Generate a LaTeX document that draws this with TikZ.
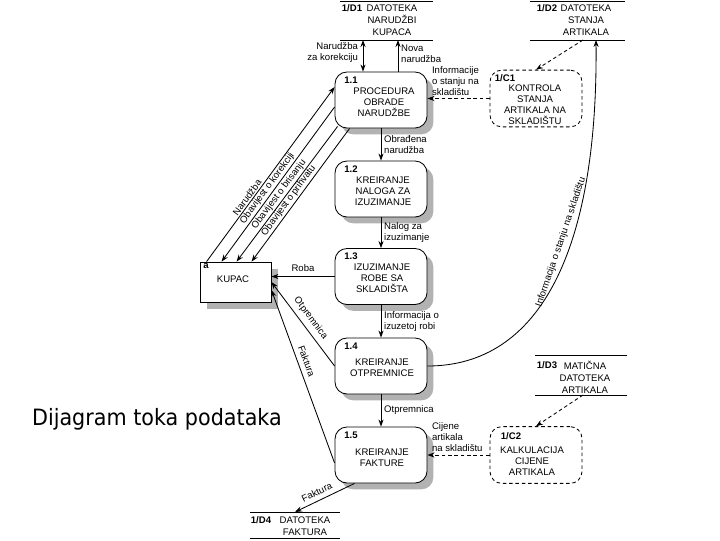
\documentclass[tikz,border=0pt]{standalone}
\usepackage{fontspec}
\setmainfont{Liberation Sans}
\newfontfamily\titlefont[FakeStretch=0.92]{DejaVu Sans}
\usetikzlibrary{shadows,calc,arrows.meta}

\tikzset{
  proc/.style={draw, fill=white, rounded corners=8.5pt, minimum width=2.3cm, minimum height=1.4cm,
    drop shadow={shadow xshift=4.5pt, shadow yshift=-4.5pt, fill=black!30, opacity=1}},
  ctrl/.style={draw, dash pattern=on 2.5pt off 2pt, rounded corners=8.5pt, minimum width=2.3cm, minimum height=1.42cm},
  ent/.style={draw, fill=white, minimum width=1.775cm, minimum height=1cm,
    drop shadow={shadow xshift=5pt, shadow yshift=-5pt, fill=black!30, opacity=1}},
  store/.style={inner sep=0pt, outer sep=0pt},
  btxt/.style={align=center, inner sep=0pt},
  stxt/.style={align=center, inner sep=0pt, font=\fontsize{6.8}{8.5}\selectfont},
  num/.style={font=\fontsize{6.8}{8}\selectfont\bfseries, inner sep=0pt},
  flow/.style={align=left, inner sep=2pt},
  slab/.style={sloped, above, inner sep=1pt},
  dflow/.style={dash pattern=on 2.5pt off 2pt}
}

\begin{document}
\begin{tikzpicture}[x=0.025cm, y=-0.025cm, >={Stealth[length=5pt,width=3.6pt]}, line width=0.6pt,
  font=\fontsize{6.8}{7.8}\selectfont]
  \useasboundingbox (0,0) rectangle (720,540);

  % procesi
  \node[proc] (p11) at (381,100) {};
  \node[proc] (p12) at (381,189) {};
  \node[proc] (p13) at (381,276.5) {};
  \node[proc] (p14) at (381,366) {};
  \node[proc] (p15) at (381,455) {};
  \foreach \i in {1,...,5}
    \node[num] (n1\i) at ($(p1\i)+(-30,-20)$) {1.\i};
  \node[btxt] (p11t) at (384,102) {PROCEDURA\\OBRADE\\NARUDŽBE};
  \node[btxt] (p12t) at (383,191) {KREIRANJE\\NALOGA ZA\\IZUZIMANJE};
  \node[btxt] (p13t) at (382,278.5) {IZUZIMANJE\\ROBE SA\\SKLADIŠTA};
  \node[btxt] (p14t) at (382,367.5) {KREIRANJE\\OTPREMNICE};
  \node[btxt] (p15t) at (382,457.5) {KREIRANJE\\FAKTURE};

  % kontrole
  \node[ctrl] (c1) at (536,98.5) {};
  \node[btxt] (c1t) at (535,104.5) {KONTROLA\\STANJA\\ARTIKALA NA\\SKLADIŠTU};
  \node[num] (c1n) at (505,78) {1/C1};
  \node[ctrl] (c2) at (536,455) {};
  \node[btxt] (c2t) at (532,461) {KALKULACIJA\\CIJENE\\ARTIKALA};
  \node[num] (c2n) at (511,436.5) {1/C2};

  % datoteke
  \node[store, minimum width=2.325cm, minimum height=0.975cm] (d1) at (386.5,20.5) {};
  \node[stxt] (d1t) at (392,20) {DATOTEKA\\NARUDŽBI\\KUPACA};
  \node[num] (d1n) at (352,8) {1/D1};
  \node[store, minimum width=2.375cm, minimum height=0.975cm] (d2) at (577.5,20.5) {};
  \node[stxt] (d2t) at (586,20) {DATOTEKA\\STANJA\\ARTIKALA};
  \node[num] (d2n) at (547,8) {1/D2};
  \node[store, minimum width=2.3cm, minimum height=1cm] (d3) at (581,375) {};
  \node[stxt] (d3t) at (585,377) {MATIČNA\\DATOTEKA\\ARTIKALA};
  \node[num] (d3n) at (547,365) {1/D3};
  \node[store, minimum width=2.25cm, minimum height=0.65cm] (d4) at (295,525) {};
  \node[stxt] (d4t) at (305,526) {DATOTEKA\\FAKTURA};
  \node[num] (d4n) at (261,520) {1/D4};
  \foreach \s in {d1,d2,d3,d4} {
    \draw (\s.north west) -- (\s.north east);
    \draw (\s.south west) -- (\s.south east);
  }

  % vanjski entitet
  \node[ent] (ku) at (235.5,282) {};
  \node[btxt] (kut) at (233,279) {KUPAC};
  \node[num] (kun) at (206,266) {a};

  \node[anchor=base west, font=\titlefont\fontsize{16}{19}\selectfont] (title) at (27,425) {Dijagram toka podataka};

  % tokovi
  \coordinate (a1) at ($(p11.north)+(-18,0)$);
  \coordinate (a2) at ($(p11.north)+(17,0)$);
  \draw[<->] (a1) -- (a1 |- d1.south) node[pos=0.6, left, align=right] {Narudžba\\za korekciju};
  \draw[->] (a2) -- (a2 |- d1.south) node[pos=0.55, right, flow] {Nova\\narudžba};

  \draw[->, dflow] (c1.west) -- (c1.west -| p11.east) node[pos=1, anchor=south west, flow, xshift=1pt] {Informacije\\o stanju na\\skladištu};
  \coordinate (b1) at ($(d2.south)+(5.5,0)$);
  \draw[->, dflow] (b1) -- (c1.north);
  \coordinate (b2) at ($(d2.south)+(18.5,0)$);
  \draw[->] (p14.east) .. controls (540,366) and (598,250) .. (b2)
    node[pos=0.6, sloped, above] {Informacija o stanju na skladištu};

  \draw[->] (p11) -- (p12) node[midway, right, flow] {Obrađena\\narudžba};
  \draw[->] (p12) -- (p13) node[midway, right, flow] {Nalog za\\izuzimanje};
  \draw[->] (p13) -- (p14) node[midway, right, flow] {Informacija o\\izuzetoj robi};
  \draw[->] (p14) -- (p15) node[midway, right, flow] {Otpremnica};

  \draw[->, dflow] (c2.west) -- (c2.west -| p15.east) node[pos=1, anchor=south west, flow, xshift=1pt] {Cijene\\artikala\\na skladištu};
  \coordinate (b3) at ($(d3.south)+(2,0)$);
  \draw[->, dflow] (b3) -- (c2.north);
  \draw[<-] (d4.north) -- (p15.227) node[pos=0.43, sloped, above] {Faktura};

  % kupac
  \coordinate (k1) at ($(ku.north west)+(7,0)$);
  \coordinate (k2) at ($(ku.north west)+(22,0)$);
  \coordinate (k3) at ($(ku.north west)+(37,0)$);
  \coordinate (k4) at ($(ku.north west)+(52,0)$);
  \coordinate (e1) at ($(p11.west)+(0,-13)$);
  \coordinate (e2) at ($(p11.west)+(0,7)$);
  \coordinate (e3) at ($(p11.south west)+(3,-2)$);
  \coordinate (e4) at ($(p11.south west)+(15,0)$);
  \draw[->] (k1) -- (e1) node[pos=0.35, slab] {Narudžba};
  \draw[<-] (k2) -- (e2) node[pos=0.45, slab] {Obavijest o korekciji};
  \draw[<-] (k3) -- (e3) node[pos=0.47, slab] {Obavijest o brisanju};
  \draw[<-] (k4) -- (e4) node[pos=0.43, slab] {Obavijest o prihvatu};

  \draw[->] (p13.west) -- (p13.west -| ku.east) node[midway, above] {Roba};
  \draw[<-] (ku.east) -- (p14.west) node[midway, sloped, above] {Otpremnica};
  \draw[<-] ($(ku.east)+(0,8)$) -- ($(p15.west)+(0,8)$) node[pos=0.43, sloped, above] {Faktura};
\end{tikzpicture}
\end{document}
